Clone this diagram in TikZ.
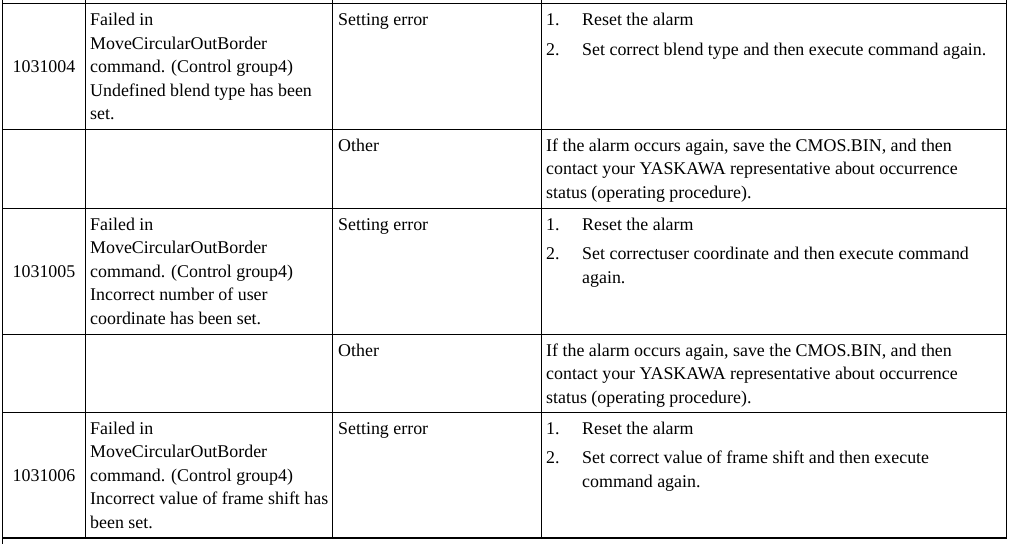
\documentclass[tikz,border=0pt]{standalone}
\usepackage{fontspec}
\setmainfont{Liberation Serif}
\begin{document}
\begin{tikzpicture}[x=1pt,y=-1pt,
  grid/.style={line width=1.3pt,black},
  cell/.style={anchor=base west,inner sep=0pt,font=\fontsize{17.9}{23.5}\selectfont},
  code/.style={anchor=base,inner sep=0pt,font=\fontsize{17.9}{23.5}\selectfont}]
\useasboundingbox[fill=white] (0,0) rectangle (1010,544);
% grid
\draw[grid] (2.7,0) -- (2.7,544);
\foreach \x in {85.3,332.7,541.7,1006.5} \draw[grid] (\x,0) -- (\x,538);
\foreach \y in {3.3,129.3,208.3,334.3,412.3,538} \draw[grid] (2.7,\y) -- (1006.5,\y);
% row 1
\node[code] (a1) at (44,72.5) {1031004};
\node[cell] (b1a) at (90,25.5) {Failed in};
\node[cell] (b1b) at (90,49) {MoveCircularOutBorder};
\node[cell] (b1c) at (90,72.5) {command. (Control group4)};
\node[cell] (b1d) at (90,96) {Undefined blend type has been};
\node[cell] (b1e) at (90,119.5) {set.};
\node[cell] (c1) at (338,25.5) {Setting error};
\node[cell] (d1n1) at (546,25.5) {1.};
\node[cell] (d1a) at (582,25.5) {Reset the alarm};
\node[cell] (d1n2) at (546,55) {2.};
\node[cell] (d1b) at (582,55) {Set correct blend type and then execute command again.};
% row 2
\node[cell] (c2) at (338,151.3) {Other};
\node[cell] (d2a) at (546,151.3) {If the alarm occurs again, save the CMOS.BIN, and then};
\node[cell] (d2b) at (546,174.8) {contact your YASKAWA representative about occurrence};
\node[cell] (d2c) at (546,198.3) {status (operating procedure).};
% row 3
\node[code] (a3) at (44,277.3) {1031005};
\node[cell] (b3a) at (90,230.3) {Failed in};
\node[cell] (b3b) at (90,253.8) {MoveCircularOutBorder};
\node[cell] (b3c) at (90,277.3) {command. (Control group4)};
\node[cell] (b3d) at (90,300.8) {Incorrect number of user};
\node[cell] (b3e) at (90,324.3) {coordinate has been set.};
\node[cell] (c3) at (338,230.3) {Setting error};
\node[cell] (d3n1) at (546,230.3) {1.};
\node[cell] (d3a) at (582,230.3) {Reset the alarm};
\node[cell] (d3n2) at (546,259.8) {2.};
\node[cell] (d3b) at (582,259.8) {Set correctuser coordinate and then execute command};
\node[cell] (d3c) at (582,283.3) {again.};
% row 4
\node[cell] (c4) at (338,356.3) {Other};
\node[cell] (d4a) at (546,356.3) {If the alarm occurs again, save the CMOS.BIN, and then};
\node[cell] (d4b) at (546,379.8) {contact your YASKAWA representative about occurrence};
\node[cell] (d4c) at (546,403.3) {status (operating procedure).};
% row 5
\node[code] (a5) at (44,481.3) {1031006};
\node[cell] (b5a) at (90,434.3) {Failed in};
\node[cell] (b5b) at (90,457.8) {MoveCircularOutBorder};
\node[cell] (b5c) at (90,481.3) {command. (Control group4)};
\node[cell] (b5d) at (90,504.8) {Incorrect value of frame shift has};
\node[cell] (b5e) at (90,528.3) {been set.};
\node[cell] (c5) at (338,434.3) {Setting error};
\node[cell] (d5n1) at (546,434.3) {1.};
\node[cell] (d5a) at (582,434.3) {Reset the alarm};
\node[cell] (d5n2) at (546,463.8) {2.};
\node[cell] (d5b) at (582,463.8) {Set correct value of frame shift and then execute};
\node[cell] (d5c) at (582,487.3) {command again.};
\end{tikzpicture}
\end{document}
